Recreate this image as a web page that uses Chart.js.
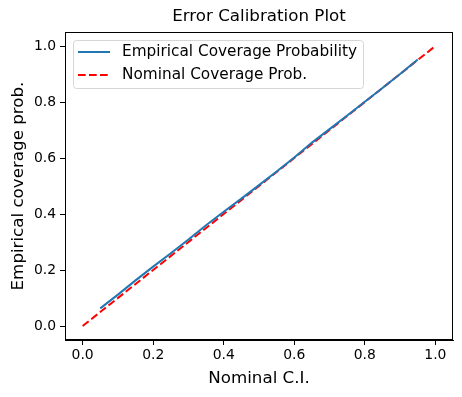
<!DOCTYPE html>
<html>
<head>
<meta charset="utf-8">
<script src="https://cdn.jsdelivr.net/npm/chart.js@4"></script>
<style>
  html, body { margin: 0; padding: 0; background: #fff; }
  #wrap { width: 462px; height: 397px; }
</style>
</head>
<body>
<div id="wrap"><canvas id="chart" width="462" height="397"></canvas></div>
<script>
// nominal confidence levels and the empirical coverage
const nominalCI = [0.05, 0.10, 0.15, 0.20, 0.25, 0.30, 0.35, 0.40, 0.45, 0.50,
                   0.55, 0.60, 0.65, 0.70, 0.75, 0.80, 0.85, 0.90, 0.95];
const empiricalCov = [0.063, 0.112, 0.163, 0.212, 0.260, 0.309, 0.360, 0.408, 0.455, 0.503,
                      0.552, 0.602, 0.655, 0.703, 0.752, 0.801, 0.850, 0.900, 0.952];
const diagX = [0, 1];
const diagY = [0, 1];
const xTicks = [0, 0.2, 0.4, 0.6, 0.8, 1.0];
const yTicks = [0, 0.2, 0.4, 0.6, 0.8, 1.0];

const FONT = 'DejaVu Sans';

// frame, title, axis labels and an in-axes legend, matplotlib style
const decor = {
    id: 'decor',
    afterDraw(chart) {
        const { ctx, chartArea: a } = chart;
        ctx.save();
        ctx.strokeStyle = '#000';
        ctx.lineWidth = 1;
        ctx.strokeRect(a.left + 0.5, a.top + 0.5, a.right - a.left - 1, a.bottom - a.top - 1);

        ctx.fillStyle = '#000';
        ctx.textAlign = 'center';
        ctx.textBaseline = 'middle';
        ctx.font = `16.7px "${FONT}"`;
        const cx = (a.left + a.right) / 2;
        ctx.fillText('Error Calibration Plot', cx, 17);
        ctx.fillText('Nominal C.I.', cx, 379);
        ctx.save();
        ctx.translate(19, (a.top + a.bottom) / 2);
        ctx.rotate(-Math.PI / 2);
        ctx.fillText('Empirical coverage prob.', 0, 0);
        ctx.restore();

        // legend
        const bx = 73, by = 40, bw = 290, bh = 48;
        ctx.fillStyle = 'rgba(255,255,255,0.8)';
        ctx.strokeStyle = '#d6d6d6';
        ctx.beginPath();
        ctx.roundRect(bx + 0.5, by + 0.5, bw, bh, 3);
        ctx.fill();
        ctx.stroke();
        ctx.font = `15.3px "${FONT}"`;
        ctx.textAlign = 'left';
        chart.data.datasets.forEach((ds, i) => {
            const y = 52 + i * 23;
            ctx.strokeStyle = ds.borderColor;
            ctx.lineWidth = ds.borderWidth;
            ctx.setLineDash(ds.borderDash || []);
            ctx.beginPath();
            ctx.moveTo(78, y);
            ctx.lineTo(110, y);
            ctx.stroke();
            ctx.setLineDash([]);
            ctx.fillStyle = '#000';
            ctx.fillText(ds.label, 122, y);
        });
        ctx.restore();
    }
};

const tickFont = { family: FONT, size: 13.9 };

new Chart(document.getElementById('chart'), {
    type: 'line',
    data: {
        datasets: [
            {
                label: 'Empirical Coverage Probability',
                data: nominalCI.map((x, i) => ({ x, y: empiricalCov[i] })),
                borderColor: '#1f77b4',
                borderWidth: 2,
                pointRadius: 0,
                tension: 0
            },
            {
                label: 'Nominal Coverage Prob.',
                data: diagX.map((x, i) => ({ x, y: diagY[i] })),
                borderColor: '#ff0000',
                borderWidth: 2,
                borderDash: [7.7, 3.3],
                pointRadius: 0,
                tension: 0
            }
        ]
    },
    options: {
        responsive: false,
        animation: false,
        layout: { padding: { top: 32, right: 9, left: 0, bottom: 0 } },
        plugins: { legend: { display: false }, tooltip: { enabled: false }, title: { display: false } },
        scales: {
            x: {
                type: 'linear',
                min: -0.05, max: 1.05,
                afterBuildTicks: s => { s.ticks = xTicks.map(v => ({ value: v })); },
                afterFit: s => { s.height = 57; },
                grid: { drawOnChartArea: false, tickLength: 5, color: '#000' },
                border: { display: true, color: '#000' },
                ticks: { color: '#000', font: tickFont, padding: 2, maxRotation: 0,
                         callback: v => v.toFixed(1) }
            },
            y: {
                type: 'linear',
                min: -0.05, max: 1.05,
                afterBuildTicks: s => { s.ticks = yTicks.map(v => ({ value: v })); },
                afterFit: s => { s.width = 65; },
                grid: { drawOnChartArea: false, tickLength: 5, color: '#000' },
                border: { display: true, color: '#000' },
                ticks: { color: '#000', font: tickFont, padding: 4,
                         callback: v => v.toFixed(1) }
            }
        }
    },
    plugins: [decor]
});
</script>
</body>
</html>
